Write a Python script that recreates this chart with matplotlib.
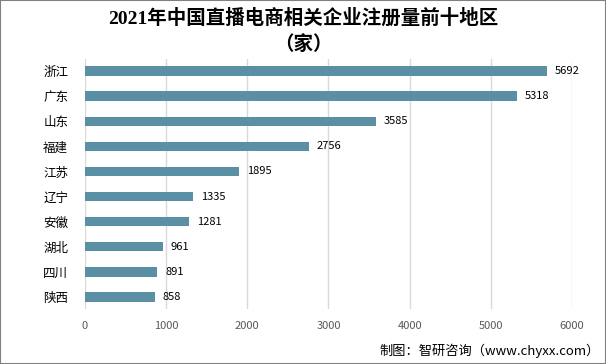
import matplotlib.pyplot as plt
from matplotlib.patches import Rectangle

plt.rcParams['font.family'] = ['Noto Sans CJK SC', 'DejaVu Sans']

# 数据
regions = ['浙江', '广东', '山东', '福建', '江苏', '辽宁', '安徽', '湖北', '四川', '陕西']
counts = [5692, 5318, 3585, 2756, 1895, 1335, 1281, 961, 891, 858]
xticks = [0, 1000, 2000, 3000, 4000, 5000, 6000]

fig = plt.figure(figsize=(6.06, 3.64), dpi=100)
ax = fig.add_axes([0.140, 0.150, 0.804, 0.689])

ypos = list(range(len(regions)))
ax.barh(ypos, counts, height=0.38, color='#5b8fa3', zorder=3)

for y, v in zip(ypos, counts):
    ax.text(v + 100, y, str(v), va='center', ha='left', fontsize=8, color='black')

ax.set_ylim(len(regions) - 0.5, -0.5)
ax.set_xlim(0, 6000)
ax.set_yticks(ypos)
ax.set_yticklabels(regions, fontsize=9, color='black')
ax.set_xticks(xticks)
ax.set_xticklabels([str(t) for t in xticks], fontsize=8, color='#595959')
ax.tick_params(axis='both', length=0)
ax.tick_params(axis='y', pad=12)
ax.tick_params(axis='x', pad=8)
ax.grid(axis='x', color='#d9d9d9', linewidth=1, zorder=0)
for s in ax.spines.values():
    s.set_visible(False)

fig.text(0.5, 0.95, '2021年中国直播电商相关企业注册量前十地区', ha='center', va='center',
         fontsize=14, fontweight='semibold', family=['Liberation Serif', 'Noto Sans CJK SC'])
fig.text(0.5, 0.878, '（家）', ha='center', va='center',
         fontsize=14, fontweight='semibold', family=['Liberation Serif', 'Noto Sans CJK SC'])

fig.text(0.99, 0.035, '制图：智研咨询（www.chyxx.com）', ha='right', va='center',
         fontsize=9.5, color='black')

fig.patches.append(Rectangle((0, 0), 1, 1, transform=fig.transFigure, fill=False,
                             edgecolor='#808080', linewidth=1.5))

fig.savefig('out.png', dpi=100)
